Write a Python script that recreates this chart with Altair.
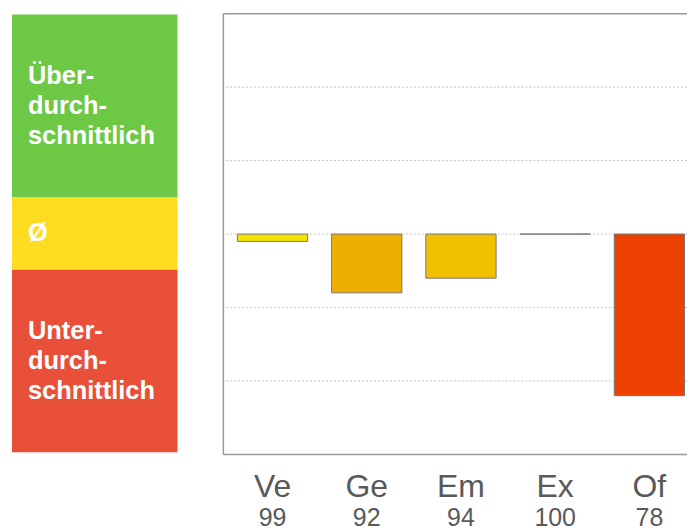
import altair as alt
import pandas as pd

# ---- data ----
categories = ["Ve", "Ge", "Em", "Ex", "Of"]
values = [99, 92, 94, 100, 78]
bar_colors = ["#F2E200", "#EEB000", "#F1C100", "#777777", "#EE4000"]
reference_value = 100

band_labels = ["Über-\ndurch-\nschnittlich", "Ø", "Unter-\ndurch-\nschnittlich"]
band_low = [105, 95, 70]
band_high = [130, 105, 95]
band_colors = ["#6DC846", "#FDDC22", "#E8503A"]

grid_values = [80, 90, 100, 110, 120]
y_min, y_max = 70, 130

FONT = "Liberation Sans"
LINE_H = 30
LEFT_H = 442
left_domain = [69.7, 130.1]
px_per_unit = LEFT_H / (left_domain[1] - left_domain[0])

# ---- left panel: rating bands ----
bands = pd.DataFrame({"label": band_labels, "lo": band_low, "hi": band_high, "color": band_colors})
n_lines = bands["label"].str.count("\n")
# Vega anchors the first line of multi-line text; shift so the block is centred in its band
bands["ytext"] = (bands["lo"] + bands["hi"]) / 2 + n_lines * LINE_H / 2 / px_per_unit
yl = alt.Scale(domain=left_domain, nice=False, zero=False)

left_rect = alt.Chart(bands).mark_rect().encode(
    x=alt.value(0), x2=alt.value(166),
    y=alt.Y("lo:Q", scale=yl, axis=None), y2="hi:Q",
    color=alt.Color("color:N", scale=None),
)
left_text = alt.Chart(bands).mark_text(
    align="left", baseline="middle", lineBreak="\n", lineHeight=LINE_H,
    font=FONT, fontWeight="bold", fontSize=25.5, color="white",
).encode(
    x=alt.value(16), y=alt.Y("ytext:Q", scale=yl, axis=None), text="label:N",
)
left = alt.layer(left_rect, left_text).properties(width=166, height=LEFT_H)

# ---- right panel: deviation bars ----
df = pd.DataFrame({"cat": categories, "value": values, "color": bar_colors})
df["base"] = reference_value

xs = alt.Scale(domain=categories, paddingInner=0.254, paddingOuter=0.0875, align=0.85, round=False)
ys = alt.Scale(domain=[y_min, y_max], nice=False, zero=False)

grid = alt.Chart(pd.DataFrame({"g": grid_values})).mark_rule(
    color="#c4c4c4", strokeDash=[2, 2], strokeWidth=1
).encode(y=alt.Y("g:Q", scale=ys, axis=None))

frame_h = alt.Chart(pd.DataFrame({"f": [y_min, y_max]})).mark_rule(
    color="#9a9a9a", strokeWidth=1.5
).encode(y=alt.Y("f:Q", scale=ys, axis=None))

frame_v = alt.Chart(pd.DataFrame({"f": [0]})).mark_rule(
    color="#9a9a9a", strokeWidth=1.5
).encode(x=alt.value(0))

bars = alt.Chart(df).mark_bar(stroke="#777777", strokeWidth=1, opacity=1).encode(
    x=alt.X("cat:N", scale=xs, axis=None, sort=categories),
    y=alt.Y("base:Q", scale=ys, axis=None), y2="value:Q",
    color=alt.Color("color:N", scale=None),
)

names = alt.Chart(df).mark_text(
    fontSize=32, color="#595959", font=FONT, baseline="alphabetic"
).encode(
    x=alt.X("cat:N", scale=xs, axis=None, sort=categories),
    y=alt.value(485), text="cat:N",
)
nums = alt.Chart(df).mark_text(
    fontSize=25, color="#595959", font=FONT, baseline="alphabetic"
).encode(
    x=alt.X("cat:N", scale=xs, axis=None, sort=categories),
    y=alt.value(514), text="value:Q",
)

right = alt.layer(grid, bars, frame_h, frame_v, names, nums).properties(width=465, height=442)

chart = alt.hconcat(left, right, spacing=45).properties(
    padding={"left": 12, "top": 12, "right": 0, "bottom": 0},
    background="white",
).configure_view(stroke=None)

chart.save("out.html", embed_options={"renderer": "svg", "actions": False})
